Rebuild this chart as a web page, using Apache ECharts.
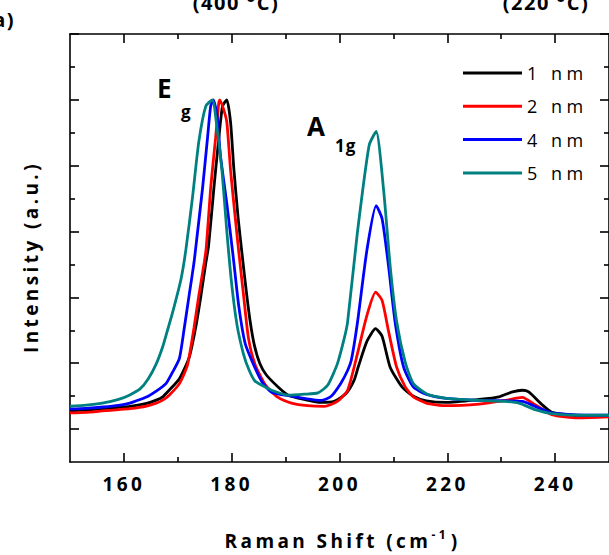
<!DOCTYPE html>
<html><head><meta charset="utf-8">
<script src="https://cdn.jsdelivr.net/npm/echarts@6/dist/echarts.min.js"></script>
<style>
html,body{margin:0;padding:0;background:#fff;}
#c{width:609px;height:555px;}
#c text{letter-spacing:3.4px;}
</style></head><body><div id="c"></div>
<script>
// Raman shift (cm^-1), intensity (a.u.)
const nm1 = [[150,1.55],[153,1.58],[156,1.62],[159,1.66],[161.1,1.69],[164.2,1.78],[166,1.88],[167.2,1.98],[168.4,2.18],[170.3,2.53],[172.1,3.17],[173.3,4.07],[174.3,5.06],[175.2,6.05],[175.7,6.55],[176.7,8.33],[177.6,9.82],[178.3,10.81],[179.1,11.0],[179.8,10.3],[180.4,8.9],[181.2,7.4],[182,6.2],[182.7,5.2],[183.4,4.3],[184.2,3.55],[185.2,3.0],[186.4,2.65],[188.6,2.28],[190.5,2.03],[193.5,1.90],[196.6,1.81],[199,1.84],[201.2,2.08],[202.7,2.48],[203.5,2.9],[205.1,3.67],[206.7,4.05],[207.9,3.82],[209.4,2.88],[211.6,2.28],[213.7,2.0],[216.1,1.86],[219.8,1.81],[225.9,1.90],[229.6,1.98],[232.1,2.13],[233.9,2.18],[235.1,2.13],[237.6,1.74],[239.4,1.51],[244.3,1.41],[250,1.41]];
const nm2 = [[150,1.49],[153,1.51],[156,1.55],[159,1.59],[161.1,1.62],[164.2,1.70],[166,1.79],[167.2,1.88],[168.4,2.03],[170.3,2.38],[171.8,2.95],[173.0,4.07],[173.9,5.06],[174.9,6.05],[175.3,6.55],[176.1,8.33],[177.0,9.82],[177.6,10.91],[177.8,11.0],[178.5,10.71],[179.1,10.32],[179.8,8.84],[180.7,7.35],[181.3,6.4],[182.2,5.06],[183.1,3.77],[184.3,2.98],[186.2,2.35],[188.6,1.96],[191.1,1.79],[194.1,1.71],[197.2,1.69],[199.6,1.84],[201.5,2.18],[203.3,3.27],[205.1,4.46],[206.7,5.16],[207.9,4.91],[209.1,3.97],[210.6,2.88],[212.2,2.28],[213.7,1.98],[216.1,1.79],[219.8,1.71],[225.9,1.76],[230.8,1.87],[233.9,1.96],[236.3,1.74],[239.4,1.44],[244.3,1.34],[250,1.37]];
const nm4 = [[150,1.61],[153,1.63],[156.2,1.67],[159,1.72],[161.1,1.79],[163,1.90],[164.5,2.00],[166,2.15],[167.8,2.38],[169,2.72],[170.3,3.15],[171.2,4.07],[172.1,5.06],[173.0,6.05],[173.5,6.75],[174.6,8.33],[175.5,9.82],[176.1,10.81],[176.6,11.0],[177.3,10.51],[177.9,9.32],[179.1,7.84],[180.3,6.2],[181.3,4.75],[182.5,3.6],[184.0,2.98],[185.6,2.44],[187.4,2.12],[191.1,2.00],[193.5,1.93],[196.6,1.87],[198.4,1.99],[200.2,2.38],[201.5,2.78],[202.2,3.1],[203.3,4.2],[205.1,6.45],[206.8,7.79],[207.9,7.39],[209.1,5.95],[210.3,4.27],[211.9,2.88],[213.7,2.28],[216,2.06],[219.8,1.93],[225.9,1.87],[233.9,1.84],[236.3,1.69],[239.4,1.49],[244,1.43],[250,1.42]];
const nm5 = [[150,1.70],[153,1.73],[156,1.79],[159,1.90],[161,2.03],[163,2.22],[164.5,2.52],[166,2.98],[167.2,3.5],[168,3.95],[169,4.52],[170.6,5.56],[171.5,6.45],[172.7,8.0],[173.9,9.73],[175.2,10.81],[176.4,11.0],[177.3,10.12],[178.2,8.84],[179.1,7.0],[180,5.4],[181,4.15],[182.2,3.27],[183.2,2.80],[184.3,2.46],[185.6,2.33],[187.4,2.18],[190.5,2.03],[193.5,2.06],[196,2.10],[197.8,2.33],[199.6,2.98],[200.9,3.77],[201.5,4.25],[203.3,6.94],[205.5,9.62],[206.8,10.04],[208.2,8.23],[209.4,5.95],[210.6,4.27],[212.2,3.03],[213.7,2.38],[216.3,2.06],[219.8,1.93],[225.9,1.87],[230.8,1.84],[233.3,1.79],[236.3,1.59],[239.4,1.47],[244.3,1.42],[250,1.42]];

const seriesNames = ['1 nm','2 nm','4 nm','5 nm'];
const seriesData = [nm1, nm2, nm4, nm5];
const colors = ['#000000','#ff0000','#0000ff','#008080'];
const xMajor = [160,180,200,220,240];
const xMinor = [170,190,210,230];
const yMajor = [1,3,5,7,9,11,13];
const yMinor = [2,4,6,8,10,12];

const F = "'Open Sans', sans-serif";
const chart = echarts.init(document.getElementById('c'), null, {renderer:'svg'});
const lineS = {color:'#000', width:1.6};

function xAx(pos, ticks, len, line, label){
  const a = {type:'value', min:150, max:250, position:pos,
    axisLine:{show:line, onZero:false, lineStyle:lineS},
    axisTick:{show:true, inside:true, length:len, customValues:ticks, lineStyle:lineS},
    axisLabel:{show:!!label, customValues:xMajor, margin:12, color:'#000', fontFamily:F, fontWeight:'bold', fontSize:19},
    splitLine:{show:false}};
  if (label) {
    a.name = 'Raman Shift (cm{sup|-1}{p|)}';
    a.nameLocation = 'middle';
    a.nameGap = 66;
    a.nameTextStyle = {color:'#000', fontFamily:F, fontWeight:'bold', fontSize:19, padding:[0,0,0,30],
      rich:{
        sup:{fontFamily:F, fontWeight:'bold', fontSize:12, color:'#000', padding:[0,0,13,29]},
        p:{fontFamily:F, fontWeight:'bold', fontSize:19, color:'#000', padding:[0,0,0,7]}
      }};
  }
  return a;
}
function yAx(pos, ticks, len, line, named){
  const a = {type:'value', min:0, max:13, position:pos,
    axisLine:{show:line, onZero:false, lineStyle:lineS},
    axisTick:{show:true, inside:true, length:len, customValues:ticks, lineStyle:lineS},
    axisLabel:{show:false},
    splitLine:{show:false}};
  if (named) {
    a.name = 'Intensity (a.u.)';
    a.nameLocation = 'middle';
    a.nameGap = 30;
    a.nameTextStyle = {color:'#000', fontFamily:F, fontWeight:'bold', fontSize:19, padding:[0,18,0,0]};
  }
  return a;
}

const option = {
  animation:false,
  backgroundColor:'#fff',
  grid:{left:70, top:34, width:542.5, height:436},
  xAxis:[xAx('bottom', xMajor, 9, true, true), xAx('bottom', xMinor, 5, false, false),
         xAx('top', xMajor, 9, true, false), xAx('top', xMinor, 5, false, false)],
  yAxis:[yAx('left', yMajor, 9, true, true), yAx('left', yMinor, 5, false, false),
         yAx('right', yMajor, 9, true, false), yAx('right', yMinor, 5, false, false)],
  legend:{orient:'vertical', left:458, top:58, itemWidth:59, itemHeight:3, itemGap:13.3, icon:'rect',
    textStyle:{fontFamily:F, fontSize:18, color:'#000', lineHeight:20}, data:seriesNames},
  series: seriesNames.map((n,i)=>({
    name:n, type:'line', data:seriesData[i], xAxisIndex:0, yAxisIndex:0,
    showSymbol:false, symbol:'none', color:colors[i], smooth:0.2,
    lineStyle:{color:colors[i], width:2.8}, z:2+i
  })),
  graphic:[
    {type:'text', x:157, y:88, style:{text:'E', font:"bold 26px 'Open Sans'", fill:'#000', textAlign:'left', textVerticalAlign:'middle'}},
    {type:'text', x:181, y:111, style:{text:'g', font:"bold 17px 'Open Sans'", fill:'#000', textAlign:'left', textVerticalAlign:'middle'}},
    {type:'text', x:307, y:126, style:{text:'A', font:"bold 26px 'Open Sans'", fill:'#000', textAlign:'left', textVerticalAlign:'middle'}},
    {type:'text', x:335, y:145, style:{text:'1g', font:"bold 17px 'Open Sans'", fill:'#000', textAlign:'left', textVerticalAlign:'middle'}},
    {type:'text', x:236, y:2, style:{text:'(400 °C)', font:"bold 20px 'Open Sans'", fill:'#000', textAlign:'center', textVerticalAlign:'middle'}},
    {type:'text', x:546, y:2, style:{text:'(220 °C)', font:"bold 20px 'Open Sans'", fill:'#000', textAlign:'center', textVerticalAlign:'middle'}},
    {type:'text', x:15, y:19, style:{text:'(a)', font:"bold 20px 'Open Sans'", fill:'#000', textAlign:'right', textVerticalAlign:'middle'}}
  ]
};
chart.setOption(option);

// per-text letter spacing tweaks (legend wider, annotations tighter)
document.querySelectorAll('#c text').forEach(t => {
  const s = t.textContent;
  if (/nm$/.test(s)) t.style.letterSpacing = '4.5px';
  else if (s === 'E' || s === 'A' || s === 'g' || s === '1g') t.style.letterSpacing = '1px';
  else if (/°C/.test(s) || s === '(a)') t.style.letterSpacing = '1.5px';
});
</script></body></html>
